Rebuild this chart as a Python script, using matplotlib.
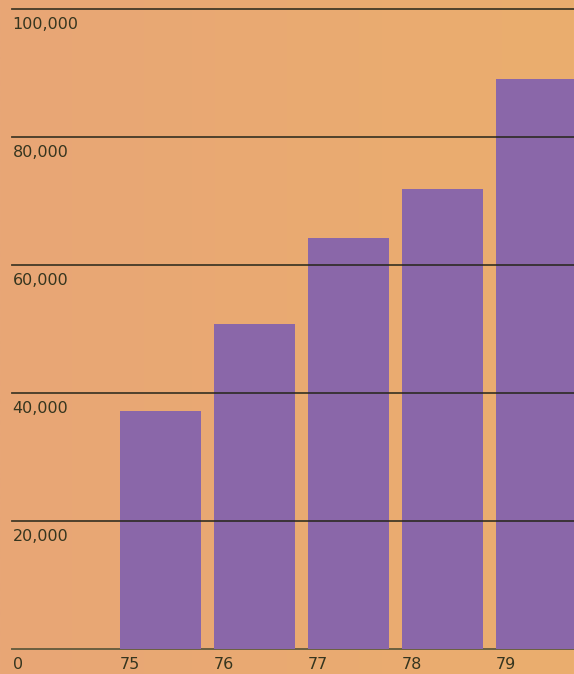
import numpy as np
import matplotlib
matplotlib.use("Agg")
import matplotlib.pyplot as plt
from matplotlib.colors import LinearSegmentedColormap

# data
years = ["75", "76", "77", "78", "79"]
values = [37200, 50800, 64200, 71900, 89000]
grid_values = [0, 20000, 40000, 60000, 80000, 100000]
grid_labels = ["0", "20,000", "40,000", "60,000", "80,000", "100,000"]

bg_color = "#e9aa74"
bar_color = "#8a67a9"
ink = "#35351f"

plt.rcParams["font.family"] = ["DejaVu Sans"]

fig = plt.figure(figsize=(5.74, 6.74), dpi=100)
fig.patch.set_facecolor(bg_color)
ax = fig.add_axes([0, 0, 1, 1])
ax.set_facecolor(bg_color)

# soft background gradient (slightly yellower to the right)
grad = np.linspace(0, 1, 256).reshape(1, -1)
cmap = LinearSegmentedColormap.from_list("bg", ["#e8a676", "#ebae6e"])
ax.imshow(grad, cmap=cmap, aspect="auto", extent=(-1.707, 4.40, -3906, 101406),
          zorder=0)

width = 0.87
x = np.arange(len(years))
ax.bar(x, values, width=width, color=bar_color, zorder=2)

for v, lab in zip(grid_values, grid_labels):
    if v == 0:
        ax.axhline(v, xmin=12 / 574, xmax=1, color="#6a5f40", lw=1.4, zorder=1)
    else:
        ax.axhline(v, xmin=12 / 574, xmax=1, color="#26261a", lw=1.3,
                   alpha=0.85, zorder=3)
    ax.annotate(lab, xy=(0, v), xycoords=("axes fraction", "data"),
                xytext=(9, -6), textcoords="offset points",
                ha="left", va="top", fontsize=11.5, color=ink)

for xi, lab in zip(x, years):
    ax.annotate(lab, xy=(xi - width / 2, 0), xycoords="data",
                xytext=(0, -6), textcoords="offset points",
                ha="left", va="top", fontsize=11.5, color=ink)

ax.set_xlim(-1.707, 4.40)
ax.set_ylim(-3906, 101406)
ax.axis("off")

fig.savefig("out.png", dpi=100, facecolor=bg_color)
